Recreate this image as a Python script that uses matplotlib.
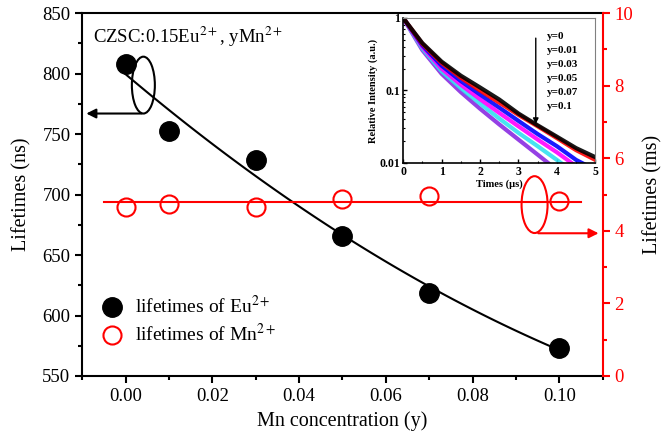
import numpy as np
import matplotlib
matplotlib.use('Agg')
import matplotlib.pyplot as plt
from matplotlib.patches import Ellipse
from matplotlib.lines import Line2D
from matplotlib.ticker import MultipleLocator, FixedLocator, FixedFormatter, LogLocator, NullFormatter

plt.rcParams['font.family'] = ['Liberation Serif', 'DejaVu Serif']
plt.rcParams['mathtext.fontset'] = 'stix'

# main data
mn_conc = [0.00, 0.01, 0.03, 0.05, 0.07, 0.10]
eu_life_ns = [807.6, 752.7, 728.5, 666.0, 619.0, 573.0]
mn_life_ms = [4.66, 4.73, 4.66, 4.89, 4.96, 4.82]

# inset decay curves
t_us = [0, 0.5, 1, 1.5, 2, 2.5, 3, 3.5, 4, 4.5, 5]
decay_y0 = [1, 0.45, 0.25, 0.16, 0.11, 0.075, 0.048, 0.033, 0.023, 0.016, 0.012]
decay_y001 = [1, 0.44, 0.24, 0.15, 0.10, 0.068, 0.046, 0.032, 0.022, 0.015, 0.011]
decay_y003 = [1, 0.42, 0.22, 0.135, 0.088, 0.058, 0.038, 0.025, 0.017, 0.011, 0.008]
decay_y005 = [1, 0.40, 0.20, 0.12, 0.076, 0.049, 0.032, 0.021, 0.014, 0.009, 0.006]
decay_y007 = [1, 0.38, 0.185, 0.108, 0.066, 0.041, 0.026, 0.017, 0.011, 0.007, 0.0045]
decay_y01 = [1, 0.36, 0.17, 0.095, 0.056, 0.034, 0.021, 0.013, 0.008, 0.005, 0.003]
decay_labels = ['y=0', 'y=0.01', 'y=0.03', 'y=0.05', 'y=0.07', 'y=0.1']
decay_colors = ['black', 'red', 'blue', '#ff00ff', '#33e0f0', '#8a2be2']

fig = plt.figure(figsize=(6.63, 4.38), dpi=100)
ax = fig.add_axes([0.124, 0.1416, 0.785, 0.8284])
ax2 = ax.twinx()

# Eu2+ lifetimes + fit
ax.plot(mn_conc, eu_life_ns, 'o', color='black', markersize=14, zorder=3)
coef = np.polyfit(mn_conc, eu_life_ns, 2)
xf = np.linspace(0, 0.10, 100)
ax.plot(xf, np.polyval(coef, xf), color='black', lw=1.5)

# Mn2+ lifetimes + constant fit
ax2.plot(mn_conc, mn_life_ms, 'o', markerfacecolor='none', markeredgecolor='red',
         markersize=13, mew=1.5, zorder=3)
ax2.plot([-0.005, 0.105], [np.mean(mn_life_ms)] * 2, color='red', lw=1.5)

ax.set_xlim(-0.01, 0.11)
ax.set_ylim(550, 850)
ax2.set_ylim(0, 10)

ax.xaxis.set_major_locator(MultipleLocator(0.02))
ax.xaxis.set_minor_locator(MultipleLocator(0.01))
ax.yaxis.set_major_locator(MultipleLocator(50))
ax.yaxis.set_minor_locator(MultipleLocator(25))
ax2.yaxis.set_major_locator(MultipleLocator(2))
ax2.yaxis.set_minor_locator(MultipleLocator(1))
ax.set_xticks([0, 0.02, 0.04, 0.06, 0.08, 0.10])
ax.set_xticklabels(['0.00', '0.02', '0.04', '0.06', '0.08', '0.10'])

for s in ['left', 'bottom', 'top']:
    ax.spines[s].set_linewidth(1.5)
ax.spines['right'].set_visible(False)
ax2.spines['right'].set_color('red')
ax2.spines['right'].set_linewidth(1.5)
for s in ['left', 'bottom', 'top']:
    ax2.spines[s].set_visible(False)

ax.tick_params(axis='both', which='major', direction='out', length=5, width=1.5, labelsize=13.5)
ax.tick_params(axis='both', which='minor', direction='out', length=3, width=1.5)
ax.tick_params(top=False, right=False, which='both')
ax2.tick_params(axis='y', which='major', direction='out', length=5, width=1.5,
                colors='red', labelsize=13.5)
ax2.tick_params(axis='y', which='minor', direction='out', length=3, width=1.5, colors='red')

ax.set_xlabel('Mn concentration (y)', fontsize=14.5, labelpad=5)
ax.set_ylabel('Lifetimes (ns)', fontsize=14.5, labelpad=8)
ax2.set_ylabel('Lifetimes (ms)', fontsize=14.5, labelpad=7)

ax.text(0.021, 0.968, r'CZSC:0.15Eu$^{2+}$, yMn$^{2+}$', transform=ax.transAxes,
        fontsize=13.5, va='top', ha='left')

# ellipses + arrows pointing to the axes
ax.add_patch(Ellipse((0.0041, 790.5), 0.0053, 47, fill=False, ec='black', lw=1.5, zorder=4))
ax.annotate('', xy=(-0.0097, 767), xytext=(0.0043, 767),
            arrowprops=dict(arrowstyle='-|>', color='black', lw=1.5, mutation_scale=14))
ax.add_patch(Ellipse((0.0943, 691.7), 0.006, 47, fill=False, ec='red', lw=1.5, zorder=4))
ax.annotate('', xy=(0.1097, 668), xytext=(0.0945, 668),
            arrowprops=dict(arrowstyle='-|>', color='red', lw=1.5, mutation_scale=14))

# legend
handles = [Line2D([], [], marker='o', ls='none', color='black', markersize=14),
           Line2D([], [], marker='o', ls='none', markerfacecolor='none',
                  markeredgecolor='red', markersize=13, mew=1.5)]
ax.legend(handles, [r'lifetimes of Eu$^{2+}$', r'lifetimes of Mn$^{2+}$'],
          loc='lower left', bbox_to_anchor=(-0.006, 0.047), frameon=False, fontsize=14,
          handletextpad=0.2, labelspacing=0.3, borderaxespad=0.3)

# inset
ins = fig.add_axes([0.608, 0.628, 0.290, 0.331])
curves = [decay_y0, decay_y001, decay_y003, decay_y005, decay_y007, decay_y01]
for yv, c in reversed(list(zip(curves, decay_colors))):
    ins.plot(t_us, yv, color=c, lw=3, alpha=0.9)
ins.set_yscale('log')
ins.set_xlim(0, 5)
ins.set_ylim(0.01, 1)
ins.xaxis.set_major_locator(MultipleLocator(1))
ins.xaxis.set_minor_locator(MultipleLocator(0.5))
ins.yaxis.set_major_locator(FixedLocator([0.01, 0.1, 1]))
ins.yaxis.set_major_formatter(FixedFormatter(['0.01', '0.1', '1']))
ins.yaxis.set_minor_locator(LogLocator(base=10, subs=np.arange(2, 10)))
ins.yaxis.set_minor_formatter(NullFormatter())
ins.tick_params(which='major', direction='in', length=3, width=1, labelsize=8.5, pad=2)
ins.tick_params(which='minor', direction='in', length=1.5, width=0.8)
for lab in ins.get_xticklabels() + ins.get_yticklabels():
    lab.set_fontweight('bold')
ins.spines['left'].set_linewidth(1.2)
ins.spines['bottom'].set_linewidth(1.2)
ins.spines['top'].set_color('gray')
ins.spines['right'].set_color('gray')
ins.set_xlabel('Times (\u03bcs)', fontsize=7.5, fontweight='bold', labelpad=1)
ins.set_ylabel('Relative Intensity (a.u.)', fontsize=7.5, fontweight='bold', labelpad=1)
ins.annotate('', xy=(0.69, 0.25), xytext=(0.69, 0.88), xycoords='axes fraction',
             arrowprops=dict(arrowstyle='-|>', color='black', lw=1, mutation_scale=8))
for i, lab in enumerate(decay_labels):
    ins.text(0.75, 0.87 - i * 0.0966, lab, transform=ins.transAxes, fontsize=8,
             fontweight='bold', va='center', ha='left')

fig.savefig('out.png', dpi=100)
